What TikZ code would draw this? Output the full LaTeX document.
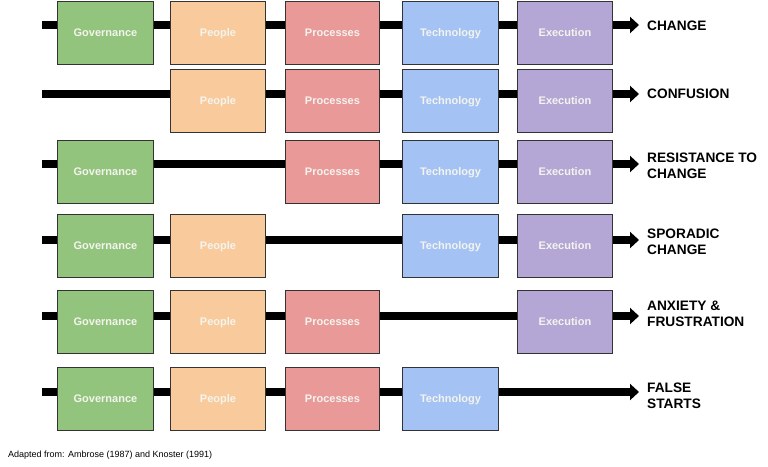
\documentclass[tikz,border=0pt]{standalone}
\usepackage{fontspec}
\setmainfont{Liberation Sans}
\usetikzlibrary{arrows.meta}
\definecolor{cgov}{HTML}{93C47D}
\definecolor{cpeo}{HTML}{F9CB9C}
\definecolor{cpro}{HTML}{EA9999}
\definecolor{ctec}{HTML}{A4C2F4}
\definecolor{cexe}{HTML}{B4A7D6}
\definecolor{cedge}{HTML}{333333}
\definecolor{ctxt}{HTML}{F4F4EE}
\tikzset{
  box/.style={draw=cedge, line width=0.9pt, minimum height=63pt, inner sep=0pt, anchor=north west,
    text height=8pt, text depth=0pt,
    font=\fontsize{11pt}{13pt}\selectfont\bfseries, text=ctxt},
  gov/.style={box, fill=cgov, minimum width=96pt},
  peo/.style={box, fill=cpeo, minimum width=95pt},
  pro/.style={box, fill=cpro, minimum width=94pt},
  tec/.style={box, fill=ctec, minimum width=96pt},
  exe/.style={box, fill=cexe, minimum width=95pt},
  bar/.style={line width=8.6pt, -{Triangle[length=9pt,width=16pt]}},
  outcome/.style={anchor=west, align=left, inner sep=0pt,
    font=\fontsize{13.7pt}{16pt}\selectfont\bfseries},
}
\begin{document}
\begin{tikzpicture}[x=1pt,y=-1pt]
\useasboundingbox[fill=white] (0,0) rectangle (768,466);
% bars
\foreach \i/\y in {1/25,2/94,3/164,4/240,5/316,6/392}{
  \coordinate (s\i) at (42,\y);
  \coordinate (e\i) at (639,\y);
  \draw[bar] (s\i) -- (e\i);
}
% row 1
\node[gov] (g1) at (57,1) {Governance};
\node[peo] (p1) at (170,1) {People};
\node[pro] (r1) at (285,1) {Processes};
\node[tec] (t1) at (402,1) {Technology};
\node[exe] (x1) at (517,1) {Execution};
\node[outcome] (o1) at (647,26) {CHANGE};
% row 2
\node[peo] (p2) at (170,69) {People};
\node[pro] (r2) at (285,69) {Processes};
\node[tec] (t2) at (402,69) {Technology};
\node[exe] (x2) at (517,69) {Execution};
\node[outcome] (o2) at (647,94) {CONFUSION};
% row 3
\node[gov] (g3) at (57,140) {Governance};
\node[pro] (r3) at (285,140) {Processes};
\node[tec] (t3) at (402,140) {Technology};
\node[exe] (x3) at (517,140) {Execution};
\node[outcome] (o3) at (647,166) {RESISTANCE TO\\CHANGE};
% row 4
\node[gov] (g4) at (57,214) {Governance};
\node[peo] (p4) at (170,214) {People};
\node[tec] (t4) at (402,214) {Technology};
\node[exe] (x4) at (517,214) {Execution};
\node[outcome] (o4) at (647,242) {SPORADIC\\CHANGE};
% row 5
\node[gov] (g5) at (57,290) {Governance};
\node[peo] (p5) at (170,290) {People};
\node[pro] (r5) at (285,290) {Processes};
\node[exe] (x5) at (517,290) {Execution};
\node[outcome] (o5) at (647,314) {ANXIETY \&\\FRUSTRATION};
% row 6
\node[gov] (g6) at (57,367) {Governance};
\node[peo] (p6) at (170,367) {People};
\node[pro] (r6) at (285,367) {Processes};
\node[tec] (t6) at (402,367) {Technology};
\node[outcome] (o6) at (647,396) {FALSE\\STARTS};
% footer
\node[anchor=west, inner sep=0pt, font=\fontsize{9pt}{11pt}\selectfont] (src) at (8,455) {Adapted from: Ambrose (1987) and Knoster (1991)};
\end{tikzpicture}
\end{document}
